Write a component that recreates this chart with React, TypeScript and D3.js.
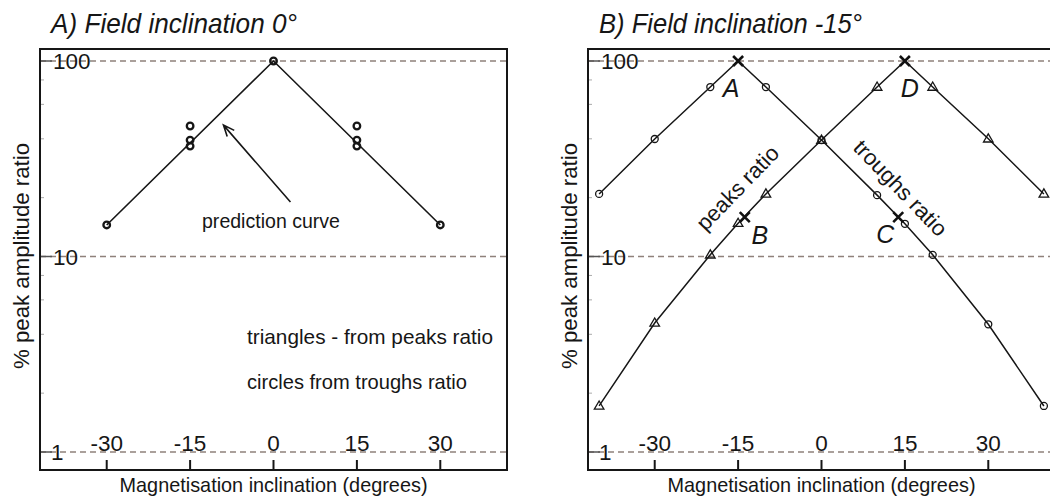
import React from "react";
import * as d3 from "d3";

const FONT = '"Liberation Sans", Arial, Helvetica, sans-serif';

// Axis ticks
const X_TICKS = [-30, -15, 0, 15, 30];
const Y_MAJOR = [1, 10, 100];
const Y_MINOR = [2, 4, 6, 8, 20, 40, 60, 80];

// Panel A: field inclination 0°
const predictionX = [-30, 0, 30];
const predictionY = [14.5, 100, 14.5];
const circlesAX = [-30, -15, -15, -15, 0, 15, 15, 15, 30];
const circlesAY = [14.5, 46.5, 39.4, 36.7, 100, 46.5, 39.4, 36.7, 14.5];

// Panel B: field inclination -15°
const troughsX = [-40, -30, -20, -15, -10, 0, 10, 15, 20, 30, 40];
const troughsY = [20.9, 39.9, 73.6, 100, 73.6, 39.4, 20.6, 14.7, 10.2, 4.5, 1.72];
const peaksX = [-40, -30, -20, -15, -10, 0, 10, 15, 20, 30, 40];
const peaksY = [1.72, 4.57, 10.2, 14.8, 20.9, 39.4, 73.6, 100, 73.6, 40, 20.9];
// Points marked with crosses instead of open symbols
const crossLabels = ["A", "B", "C", "D"];
const crossX = [-15, -13.8, 13.8, 15];
const crossY = [100, 15.9, 15.9, 100];

const W = 1050;
const H = 500;
const TOP = 49;
const BOTTOM = 470;
const INK = "#161616";
const GRID = "#8f817b";

const yScale = d3.scaleLog().domain([1, 100]).range([452, 61]);
const makeX = (x0: number, x1: number) =>
  d3.scaleLinear().domain([-42, 42]).range([x0, x1]);

type Scale = d3.ScaleLinear<number, number>;

function Frame({ x, x0, x1, title, titleLen }: { x: Scale; x0: number; x1: number; title: string; titleLen: number }) {
  const mid = (x0 + x1) / 2;
  return (
    <g fontFamily={FONT} fill={INK}>
      <text x={x0 + 11} y={33} fontSize={27.5} fontStyle="italic" textLength={titleLen} lengthAdjust="spacingAndGlyphs">
        {title}
      </text>
      {Y_MAJOR.map((v) => (
        <g key={"g" + v}>
          <line x1={x0} x2={x1} y1={yScale(v)} y2={yScale(v)} stroke={GRID} strokeWidth={1.5} strokeDasharray="6 4" />
          <line x1={x0} x2={x0 + 12} y1={yScale(v)} y2={yScale(v)} stroke="#555" strokeWidth={1.5} />
          <text x={x0 + (v === 1 ? 11 : 13)} y={yScale(v) + 8} fontSize={22.5}>
            {v}
          </text>
        </g>
      ))}
      {Y_MINOR.map((v) => (
        <line key={"m" + v} x1={x0} x2={x0 + 4} y1={yScale(v)} y2={yScale(v)} stroke="#aaa" strokeWidth={1} />
      ))}
      {X_TICKS.map((t) => (
        <g key={"x" + t}>
          <line x1={x(t)} x2={x(t)} y1={BOTTOM} y2={BOTTOM - 10} stroke={INK} strokeWidth={2} />
          <text x={x(t)} y={451} fontSize={22.5} textAnchor="middle">
            {t}
          </text>
        </g>
      ))}
      <rect x={x0} y={TOP} width={x1 - x0} height={BOTTOM - TOP} fill="none" stroke={INK} strokeWidth={2} />
      <text x={mid} y={492} fontSize={21} textAnchor="middle" textLength={308} lengthAdjust="spacingAndGlyphs">
        Magnetisation inclination (degrees)
      </text>
      <text
        transform={`translate(${x0 - 11},${256}) rotate(-90)`}
        fontSize={22}
        textAnchor="middle"
        textLength={226}
        lengthAdjust="spacingAndGlyphs"
      >
        % peak amplitude ratio
      </text>
    </g>
  );
}

function Circle({ cx, cy, r = 3.5, sw = 1.3 }: { cx: number; cy: number; r?: number; sw?: number }) {
  return <circle cx={cx} cy={cy} r={r} fill="none" stroke={INK} strokeWidth={sw} />;
}

function Triangle({ cx, cy }: { cx: number; cy: number }) {
  const p = `M${cx},${cy - 5}L${cx + 4.8},${cy + 3.2}L${cx - 4.8},${cy + 3.2}Z`;
  return <path d={p} fill="none" stroke={INK} strokeWidth={1.3} />;
}

function Cross({ cx, cy }: { cx: number; cy: number }) {
  const s = 5;
  return (
    <path
      d={`M${cx - s},${cy - s}L${cx + s},${cy + s}M${cx - s},${cy + s}L${cx + s},${cy - s}`}
      stroke="#111"
      strokeWidth={2.6}
    />
  );
}

function PanelA() {
  const x0 = 40;
  const x1 = 507;
  const x = makeX(x0, x1);
  const line = d3
    .line<number>()
    .x((_, i) => x(predictionX[i]))
    .y((_, i) => yScale(predictionY[i]));
  const tip: [number, number] = [x(-9), yScale(47)];
  const tail: [number, number] = [x(3.05), yScale(19)];
  const ang = Math.atan2(tail[1] - tip[1], tail[0] - tip[0]);
  const hl = 12;
  const spread = 0.4;
  const h1 = [tip[0] + hl * Math.cos(ang + spread), tip[1] + hl * Math.sin(ang + spread)];
  const h2 = [tip[0] + hl * Math.cos(ang - spread), tip[1] + hl * Math.sin(ang - spread)];
  return (
    <g>
      <Frame x={x} x0={x0} x1={x1} title="A) Field inclination 0°" titleLen={246} />
      <path d={line(predictionX) || ""} fill="none" stroke={INK} strokeWidth={1.6} />
      {circlesAX.map((v, i) => (
        <Circle key={i} cx={x(v)} cy={yScale(circlesAY[i])} r={3.3} sw={2.3} />
      ))}
      <path
        d={`M${tail[0]},${tail[1]}L${tip[0]},${tip[1]}M${h1[0]},${h1[1]}L${tip[0]},${tip[1]}L${h2[0]},${h2[1]}`}
        fill="none"
        stroke={INK}
        strokeWidth={1.6}
      />
      <g fontFamily={FONT} fill={INK} fontSize={21}>
        <text x={202} y={228} textLength={138} lengthAdjust="spacingAndGlyphs">
          prediction curve
        </text>
        <text x={247} y={344} textLength={246} lengthAdjust="spacingAndGlyphs">
          triangles - from peaks ratio
        </text>
        <text x={247} y={389} textLength={220} lengthAdjust="spacingAndGlyphs">
          circles from troughs ratio
        </text>
      </g>
    </g>
  );
}

function PanelB() {
  const x0 = 588;
  const x1 = 1055;
  const x = makeX(x0, x1);
  const troughLine = d3
    .line<number>()
    .x((v) => x(v))
    .y((_, i) => yScale(troughsY[i]));
  const peakLine = d3
    .line<number>()
    .x((v) => x(v))
    .y((_, i) => yScale(peaksY[i]));
  // label offsets (px) from each cross
  const labelDX = [-7, 15, -13, 5];
  const labelDY = [36, 27, 26, 36];
  return (
    <g>
      <Frame x={x} x0={x0} x1={x1} title="B) Field inclination -15°" titleLen={263} />
      <path d={troughLine(troughsX) || ""} fill="none" stroke={INK} strokeWidth={1.5} />
      <path d={peakLine(peaksX) || ""} fill="none" stroke={INK} strokeWidth={1.5} />
      {troughsX.map((v, i) =>
        troughsY[i] === 100 ? null : <Circle key={"c" + i} cx={x(v)} cy={yScale(troughsY[i])} />
      )}
      {peaksX.map((v, i) =>
        peaksY[i] === 100 ? null : <Triangle key={"t" + i} cx={x(v)} cy={yScale(peaksY[i])} />
      )}
      {crossX.map((v, i) => (
        <g key={"x" + i}>
          <Cross cx={x(v)} cy={yScale(crossY[i])} />
          <text
            x={x(v) + labelDX[i]}
            y={yScale(crossY[i]) + labelDY[i]}
            fontFamily={FONT}
            fontSize={25}
            fontStyle="italic"
            textAnchor="middle"
            fill={INK}
          >
            {crossLabels[i]}
          </text>
        </g>
      ))}
      <g fontFamily={FONT} fill={INK} fontSize={22}>
        <text
          transform={`translate(${x(-15.1)},${yScale(22.4)}) rotate(-46)`}
          textAnchor="middle"
          dominantBaseline="central"
          textLength={108}
          lengthAdjust="spacingAndGlyphs"
        >
          peaks ratio
        </text>
        <text
          transform={`translate(${x(14.2)},${yScale(22.4)}) rotate(46)`}
          textAnchor="middle"
          dominantBaseline="central"
          textLength={124}
          lengthAdjust="spacingAndGlyphs"
        >
          troughs ratio
        </text>
      </g>
    </g>
  );
}

export default function App() {
  return (
    <svg
      width={W}
      height={H}
      viewBox={`0 0 ${W} ${H}`}
      style={{ position: "absolute", left: 0, top: 0, background: "#fff" }}
    >
      <rect width={W} height={H} fill="#fff" />
      <PanelA />
      <PanelB />
    </svg>
  );
}
